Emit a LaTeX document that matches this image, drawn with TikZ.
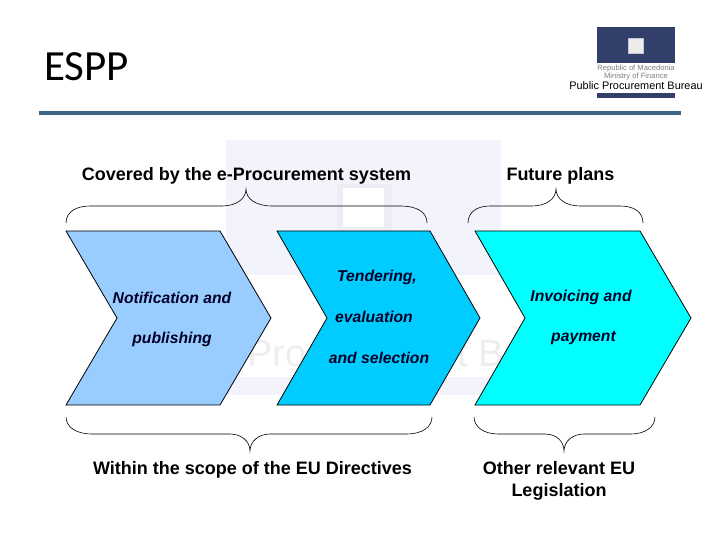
\documentclass[tikz,border=0pt]{standalone}
\usepackage{fontspec}
\setmainfont{Liberation Sans}
\newfontfamily\titlefont{Carlito}
\usepackage{xcolor}
\definecolor{ruleblue}{HTML}{3F6587}
\definecolor{logonavy}{HTML}{333F6B}
\definecolor{markpale}{HTML}{F3F3FC}
\definecolor{markband}{HTML}{EDEDF6}
\definecolor{markgray}{HTML}{EEEEEE}
\definecolor{stepone}{HTML}{99CCFF}
\definecolor{steptwo}{HTML}{00CCFF}
\definecolor{stepthree}{HTML}{00FFFF}
\tikzset{
  chevron/.style={draw=black,line width=0.8pt,line join=round},
  bracket/.style={draw=black,line width=0.6pt},
  steplabel/.style={font=\bfseries\itshape\fontsize{15.7}{18}\selectfont,text=black!85!blue,inner sep=0pt},
  headlabel/.style={font=\bfseries\fontsize{18}{22}\selectfont,inner sep=0pt,align=center},
  logotext/.style={font=\fontsize{7.6}{9}\selectfont,text=gray,inner sep=0pt},
  marktext/.style={anchor=base west,font=\fontsize{38}{42}\selectfont,text=markgray,inner sep=0pt}
}
\begin{document}
\begin{tikzpicture}[x=1pt,y=-1pt]
    \useasboundingbox (0,0) rectangle (720,540);
    \fill[white] (0,0) rectangle (720,540);
    % Title and rule
    \node[anchor=west,inner sep=0pt,font=\titlefont\fontsize{43}{48}\selectfont] (title) at (44,67) {ESPP};
    \fill[ruleblue] (39,111) rectangle (681,115);
    % Logo
    \fill[logonavy] (597,27) rectangle (675,63);
    \fill[logonavy] (597,93) rectangle (675,98);
    \draw[white!70!logonavy,line width=0.8pt,fill=white!85!gray] (628,38) rectangle (643,53);
    \node[logotext] (logoa) at (636,69) {Republic of Macedonia};
    \node[logotext] (logob) at (636,77) {Ministry of Finance};
    \node[font=\fontsize{10.9}{12}\selectfont,inner sep=0pt] (logoc) at (636,86) {Public Procurement Bureau};
    % Faded mark behind the steps
    \fill[markpale] (226,140) rectangle (501,275);
    \fill[markpale] (226,377) rectangle (501,395);
    \fill[markband] (337,184) rectangle (392,232);
    \fill[white] (343,188) rectangle (384,227);
    \node[marktext] (markleft) at (247,366) {Pro};
    \node[marktext] (markright) at (457,366) {t Bu};
    % Steps
    \fill[chevron,fill=stepone] (66,231) -- (220,231) -- (271,318) -- (220,405) -- (66,405) -- (117,318) -- cycle;
    \fill[chevron,fill=steptwo] (277,231) -- (430,231) -- (480,318) -- (430,405) -- (277,405) -- (327,318) -- cycle;
    \fill[chevron,fill=stepthree] (475,231) -- (640,231) -- (691,318) -- (640,405) -- (475,405) -- (525,318) -- cycle;
    % Step labels
    \node[steplabel] (notifa) at (172,298) {Notification and};
    \node[steplabel] (notifb) at (172,339) {publishing};
    \node[steplabel] (tenda) at (377,277) {Tendering,};
    \node[steplabel] (tendb) at (374,317) {evaluation};
    \node[steplabel] (tendc) at (379,358) {and selection};
    \node[steplabel] (invoa) at (581,297.5) {Invoicing and};
    \node[steplabel] (invob) at (583.5,338.5) {payment};
    % Upper braces
    \draw[bracket] (66,223) .. controls (66,212) and (76,206) .. (90,206) -- (222,206)
      .. controls (236,206) and (246,199) .. (246,189) .. controls (246,199) and (256,206) .. (272,206)
      -- (400,206) .. controls (417,206) and (427,212) .. (427,223);
    \draw[bracket] (468,223) .. controls (468,212) and (477,206) .. (490,206) -- (532,206)
      .. controls (546,206) and (556,199) .. (556,189) .. controls (556,199) and (566,206) .. (580,206)
      -- (620,206) .. controls (634,206) and (643,212) .. (643,223);
    % Lower braces
    \draw[bracket] (66,417) .. controls (66,427) and (76,434) .. (92,434) -- (230,434)
      .. controls (241,434) and (250,441) .. (250,451) .. controls (250,441) and (259,434) .. (270,434)
      -- (407,434) .. controls (422,434) and (432,427) .. (432,417);
    \draw[bracket] (474,417) .. controls (474,427) and (484,434) .. (498,434) -- (545,434)
      .. controls (556,434) and (564,441) .. (564,451) .. controls (564,441) and (573,434) .. (584,434)
      -- (631,434) .. controls (645,434) and (655,427) .. (655,417);
    % Headings
    \node[headlabel] (headcov) at (246.5,176) {Covered by the e-Procurement system};
    \node[headlabel] (headfut) at (560.5,176) {Future plans};
    \node[headlabel] (headeu) at (252.5,470) {Within the scope of the EU Directives};
    \node[headlabel] (headoth) at (559,480.5) {Other relevant EU\\Legislation};
\end{tikzpicture}
\end{document}
